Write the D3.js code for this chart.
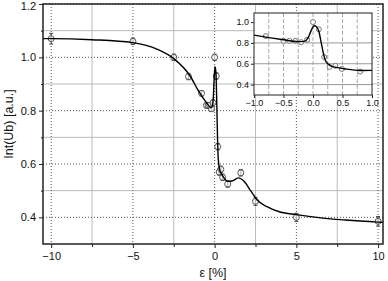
<!DOCTYPE html>
<html>
<head>
<meta charset="utf-8">
<script src="https://cdn.jsdelivr.net/npm/d3@7"></script>
<style>
  body { margin: 0; background: #fff; }
  text { font-family: "Liberation Sans", Arial, sans-serif; fill: #111; }
</style>
</head>
<body>
<div id="chart"></div>
<script>
// measured points: strain, intensity, error
const epsPts = [-10, -5, -2.5, -1.6, -0.8, -0.5, -0.4, -0.3, -0.2, -0.1, 0.0, 0.1, 0.19, 0.28, 0.38, 0.49, 0.8, 1.6, 2.5, 5, 10];
const intPts = [1.07, 1.06, 1.0, 0.928, 0.865, 0.82, 0.82, 0.82, 0.807, 0.83, 1.0, 0.93, 0.665, 0.57, 0.58, 0.55, 0.525, 0.567, 0.46, 0.4, 0.385];
const errPts = [0.02, 0.012, 0.012, 0.012, 0.01, 0.01, 0.01, 0.01, 0.01, 0.01, 0.012, 0.012, 0.012, 0.012, 0.012, 0.012, 0.012, 0.012, 0.015, 0.015, 0.018];
// fit curve
const epsFit = [-10.5, -10, -7.5, -5, -3.5, -2.5, -1.5, -1.0, -0.5, -0.25, -0.15, -0.08, -0.03, 0.02, 0.06, 0.1, 0.14, 0.18, 0.22, 0.3, 0.4, 0.55, 0.8, 1.1, 1.45, 1.8, 2.2, 2.6, 3.2, 4, 5, 6.5, 8, 10, 10.3];
const intFit = [1.07, 1.07, 1.066, 1.055, 1.03, 0.995, 0.93, 0.875, 0.83, 0.812, 0.815, 0.85, 0.92, 0.965, 0.955, 0.91, 0.8, 0.69, 0.62, 0.58, 0.565, 0.55, 0.535, 0.537, 0.548, 0.535, 0.5, 0.465, 0.44, 0.42, 0.41, 0.398, 0.39, 0.382, 0.381];
const xTicks = [-10, -5, 0, 5, 10];
const yTicks = [0.4, 0.6, 0.8, 1.0, 1.2];
const xMinor = [-7.5, -2.5, 2.5, 7.5];
const yMinor = [0.5, 0.7, 0.9, 1.1];
const inXTicks = [-1.0, -0.5, 0.0, 0.5, 1.0];
const inYTicks = [0.4, 0.6, 0.8, 1.0];
const inXMinor = [-0.75, -0.25, 0.25, 0.75];

const width = 388, height = 281;
const pts = epsPts.map((e, i) => ({x: e, y: intPts[i], e: errPts[i]}));
const fit = epsFit.map((e, i) => ({x: e, y: intFit[i]}));

const svg = d3.select("#chart").append("svg")
  .attr("width", width).attr("height", height);

const m = {l: 43, r: 383, t: 4, b: 244};
const x = d3.scaleLinear().domain([-10.5, 10.3]).range([m.l, m.r]);
const y = d3.scaleLinear().domain([0.3, 1.2]).range([m.b, m.t]);

// grid
const grid = svg.append("g");
grid.selectAll(".gxm").data(xMinor).enter().append("line")
  .attr("x1", d => x(d)).attr("x2", d => x(d)).attr("y1", m.t).attr("y2", m.b)
  .attr("stroke", "#bbb").attr("stroke-width", 1);
grid.selectAll(".gym").data(yMinor).enter().append("line")
  .attr("y1", d => y(d)).attr("y2", d => y(d)).attr("x1", m.l).attr("x2", m.r)
  .attr("stroke", "#bbb").attr("stroke-width", 1);
grid.selectAll(".gx").data(xTicks).enter().append("line")
  .attr("x1", d => x(d)).attr("x2", d => x(d)).attr("y1", m.t).attr("y2", m.b)
  .attr("stroke", "#555").attr("stroke-dasharray", "1,2");
grid.selectAll(".gy").data(yTicks).enter().append("line")
  .attr("y1", d => y(d)).attr("y2", d => y(d)).attr("x1", m.l).attr("x2", m.r)
  .attr("stroke", "#555").attr("stroke-dasharray", "1,2");

const line = d3.line().x(d => x(d.x)).y(d => y(d.y)).curve(d3.curveMonotoneX);

// error bars + markers
function drawPoints(g, sx, sy, data, r) {
  g.selectAll(".eb").data(data).enter().append("line")
    .attr("x1", d => sx(d.x)).attr("x2", d => sx(d.x))
    .attr("y1", d => sy(d.y - d.e)).attr("y2", d => sy(d.y + d.e))
    .attr("stroke", "#444").attr("stroke-width", 1);
  g.selectAll(".cap").data(data.flatMap(d => [d.y - d.e, d.y + d.e].map(v => ({x: d.x, v})))).enter()
    .append("line")
    .attr("x1", d => sx(d.x) - 2).attr("x2", d => sx(d.x) + 2)
    .attr("y1", d => sy(d.v)).attr("y2", d => sy(d.v))
    .attr("stroke", "#444").attr("stroke-width", 1);
  g.selectAll("circle").data(data).enter().append("circle")
    .attr("cx", d => sx(d.x)).attr("cy", d => sy(d.y)).attr("r", r)
    .attr("fill", "white").attr("fill-opacity", 0.6).attr("stroke", "#555").attr("stroke-width", 1);
}
const mainPts = svg.append("g");
drawPoints(mainPts, x, y, pts, 3);

svg.append("path").datum(fit).attr("d", line)
  .attr("fill", "none").attr("stroke", "#000").attr("stroke-width", 1.4);

// frame and axes
svg.append("rect").attr("x", m.l).attr("y", m.t).attr("width", m.r - m.l).attr("height", m.b - m.t)
  .attr("fill", "none").attr("stroke", "#222").attr("stroke-width", 1.5);

const xAxis = svg.append("g").attr("transform", `translate(0,${m.b})`)
  .call(d3.axisBottom(x).tickValues(xTicks).tickFormat(d3.format("d")).tickSize(4).tickPadding(4));
svg.append("g").attr("transform", `translate(0,${m.b})`)
  .call(d3.axisBottom(x).tickValues(xMinor).tickFormat("").tickSize(3));
const yAxis = svg.append("g").attr("transform", `translate(${m.l},0)`)
  .call(d3.axisLeft(y).tickValues(yTicks).tickFormat(d3.format(".1f")).tickSize(4).tickPadding(3));
svg.append("g").attr("transform", `translate(${m.l},0)`)
  .call(d3.axisLeft(y).tickValues(yMinor).tickFormat("").tickSize(2));
svg.selectAll(".domain").remove();
svg.selectAll(".tick text").style("font-size", "11px");
svg.selectAll(".tick line").attr("stroke", "#222");
// keep the top label inside the picture
yAxis.selectAll(".tick text").filter(d => d === 1.2).attr("dy", "0.5em");

svg.append("text").attr("transform", `translate(13,${(m.t + m.b) / 2}) rotate(-90)`)
  .attr("text-anchor", "middle").style("font-size", "12.5px").text("Int(Ub) [a.u.]");
svg.append("text").attr("x", 213).attr("y", 277)
  .attr("text-anchor", "middle").style("font-size", "12.5px").text("ε [%]");

// inset
const ins = {l: 254, r: 372, t: 13, b: 95};
const ix = d3.scaleLinear().domain([-1, 1]).range([ins.l, ins.r]);
const iy = d3.scaleLinear().domain([0.3, 1.087]).range([ins.b, ins.t]);
const inset = svg.append("g");
inset.append("rect").attr("x", ins.l).attr("y", ins.t).attr("width", ins.r - ins.l).attr("height", ins.b - ins.t)
  .attr("fill", "white");
inset.selectAll(".igx").data(inXTicks.slice(1, -1).concat(inXMinor)).enter().append("line")
  .attr("x1", d => ix(d)).attr("x2", d => ix(d)).attr("y1", ins.t).attr("y2", ins.b)
  .attr("stroke", "#aaa").attr("stroke-dasharray", "4,2");
inset.selectAll(".igy").data(inYTicks.filter(d => d < 1)).enter().append("line")
  .attr("y1", d => iy(d)).attr("y2", d => iy(d)).attr("x1", ins.l).attr("x2", ins.r)
  .attr("stroke", "#999");
const clip = svg.append("clipPath").attr("id", "insclip").append("rect")
  .attr("x", ins.l).attr("y", ins.t).attr("width", ins.r - ins.l).attr("height", ins.b - ins.t);
const inPlot = inset.append("g").attr("clip-path", "url(#insclip)");
const inPts = pts.filter(d => d.x >= -1 && d.x <= 1).map(d => ({x: d.x, y: d.y, e: 0}));
inPlot.selectAll("circle").data(inPts).enter().append("circle")
  .attr("cx", d => ix(d.x)).attr("cy", d => iy(d.y)).attr("r", 2.5)
  .attr("fill", "white").attr("stroke", "#777").attr("stroke-width", 1);
const iline = d3.line().x(d => ix(d.x)).y(d => iy(d.y)).curve(d3.curveMonotoneX);
inPlot.append("path").datum(fit).attr("d", iline)
  .attr("fill", "none").attr("stroke", "#000").attr("stroke-width", 1.4);
inset.append("rect").attr("x", ins.l).attr("y", ins.t).attr("width", ins.r - ins.l).attr("height", ins.b - ins.t)
  .attr("fill", "none").attr("stroke", "#222").attr("stroke-width", 1);
const ixa = inset.append("g").attr("transform", `translate(0,${ins.b})`)
  .call(d3.axisBottom(ix).tickValues(inXTicks).tickFormat(d3.format(".1f")).tickSize(3).tickPadding(2));
const iya = inset.append("g").attr("transform", `translate(${ins.l},0)`)
  .call(d3.axisLeft(iy).tickValues(inYTicks).tickFormat(d3.format(".1f")).tickSize(3).tickPadding(2));
inset.selectAll(".domain").remove();
inset.selectAll(".tick text").style("font-size", "9px");
inset.selectAll(".tick line").attr("stroke", "#222");
</script>
</body>
</html>
